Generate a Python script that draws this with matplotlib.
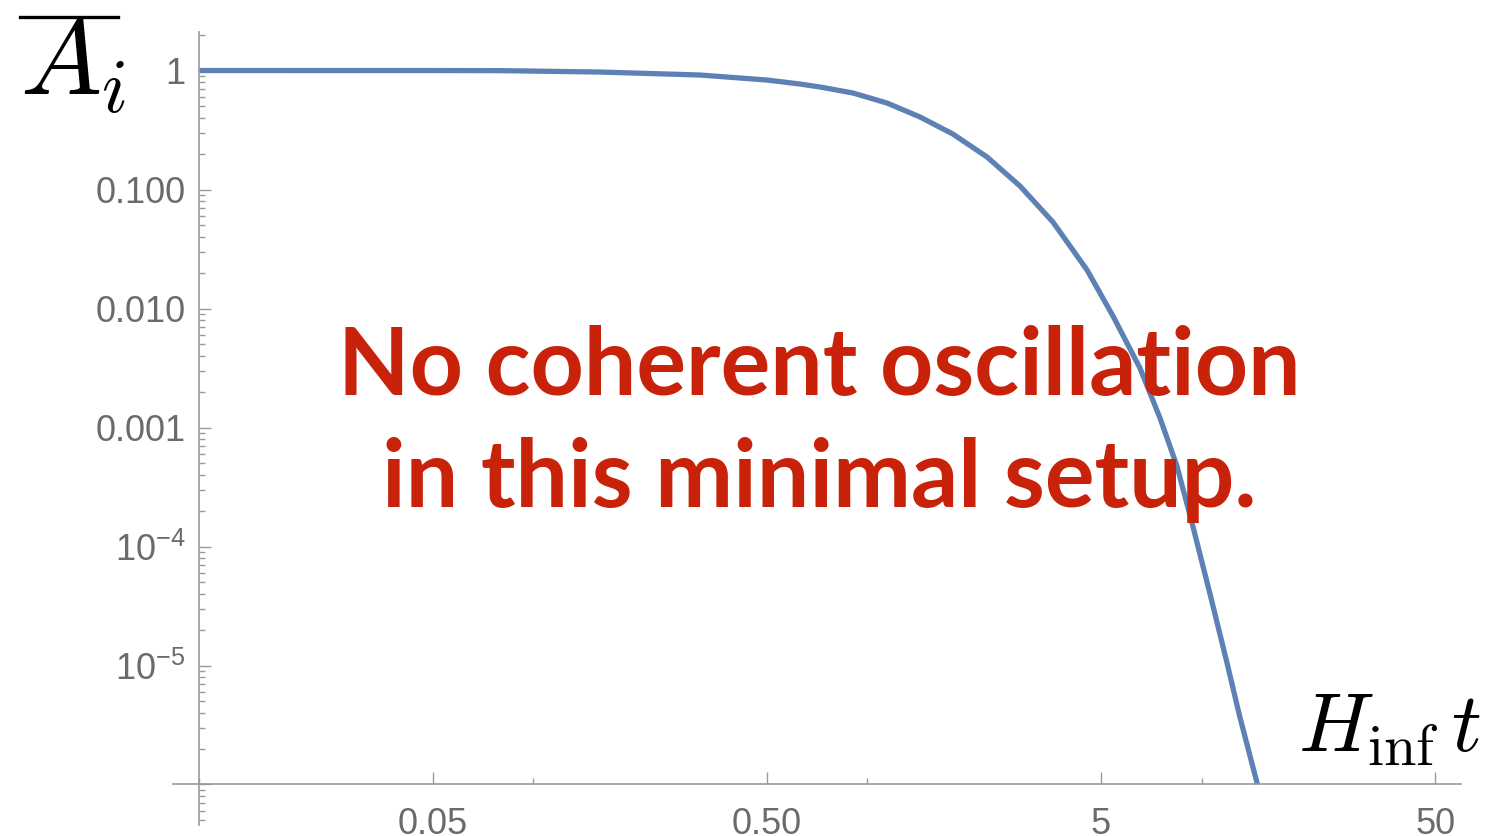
import matplotlib.pyplot as plt
from matplotlib.lines import Line2D
from matplotlib.ticker import LogLocator, NullFormatter

# mean amplitude against H_inf * t (log-log)
t_vals = [0.01, 0.05, 0.0794, 0.158, 0.315, 0.5, 0.628, 0.721, 0.905, 1.144, 1.436, 1.80,
          2.28, 2.86, 3.59, 4.54, 5.43, 6.54, 7.51, 8.44, 9.43, 10.6, 11.9, 13.0, 14.7]
amp_vals = [1.0, 0.999, 0.998, 0.971, 0.917, 0.832, 0.770, 0.727, 0.647, 0.533, 0.407, 0.293,
            0.1876, 0.107, 0.0533, 0.0211, 0.00865, 0.00316, 0.00120, 4.74e-4, 1.46e-4, 3.99e-5,
            1.07e-5, 3.76e-6, 1.0e-6]

y_ticks = [1, 0.1, 0.01, 0.001, 1e-4, 1e-5, 1e-6]
y_labels = ['1', '0.100', '0.010', '0.001', '$10^{-4}$', '$10^{-5}$', '']
x_ticks = [0.05, 0.5, 5, 50]
x_labels = ['0.05', '0.50', '5', '50']
x_minor = [0.01, 0.1, 1, 10]

plt.rcParams['font.family'] = 'Liberation Sans'
plt.rcParams['mathtext.fontset'] = 'custom'
plt.rcParams['mathtext.rm'] = 'Liberation Sans'
plt.rcParams['mathtext.it'] = 'Liberation Sans:italic'
plt.rcParams['mathtext.bf'] = 'Liberation Sans:bold'

W, H = 1507, 836
fig = plt.figure(figsize=(W / 100, H / 100), dpi=100)
ax = fig.add_axes([0.1148, 0.0132, 0.8547, 0.9486])
ax.set_xscale('log')
ax.set_yscale('log')

ax.plot(t_vals, amp_vals, color='#5E81B5', linewidth=3.8, solid_capstyle='butt',
        solid_joinstyle='round')

ax.set_xlim(0.00834, 59.8)
ax.set_ylim(4.57e-7, 2.11)

# axes cross at (0.01, 1e-6)
for side in ['top', 'right']:
    ax.spines[side].set_visible(False)
ax.spines['left'].set_position(('data', 0.01))
ax.spines['bottom'].set_position(('data', 1e-6))
for side in ['left', 'bottom']:
    ax.spines[side].set_color('#9a9a9a')
    ax.spines[side].set_linewidth(1.2)

ax.set_yticks(y_ticks, y_labels)
ax.yaxis.set_minor_locator(LogLocator(base=10, subs=range(2, 10), numticks=20))
ax.yaxis.set_minor_formatter(NullFormatter())
ax.set_xticks(x_ticks, x_labels)
ax.set_xticks(x_minor, minor=True)
ax.xaxis.set_minor_formatter(NullFormatter())

ax.tick_params(which='both', direction='in', color='#9a9a9a', labelcolor='#6b6b6b',
               width=1.0, labelsize=26, pad=10)
ax.tick_params(axis='x', which='major', pad=16)
ax.tick_params(which='major', length=8.6)
ax.tick_params(which='minor', length=4.3)

# axis labels in the corners (bar over A_i drawn as its own line)
fig.text(20 / W, 1 - 95 / H, r'$A_i$', fontsize=78, math_fontfamily='cm',
         ha='left', va='baseline')
fig.add_artist(Line2D([20 / W, 118 / W], [1 - 17 / H, 1 - 17 / H], color='black',
                      linewidth=2.4, transform=fig.transFigure))
fig.text(1298 / W, 1 - 752 / H, r'$H_{\mathrm{inf}}\,t$', fontsize=60, math_fontfamily='cm',
         ha='left', va='baseline')

# note across the plot
note_kw = dict(fontfamily='Lato', fontweight='bold', fontsize=67, color='#C8230A',
               ha='center', va='baseline')
fig.text(819 / W, 1 - 395 / H, 'No coherent oscillation', **note_kw)
fig.text(819 / W, 1 - 507 / H, 'in this minimal setup.', **note_kw)

fig.savefig('out.png', dpi=100)
